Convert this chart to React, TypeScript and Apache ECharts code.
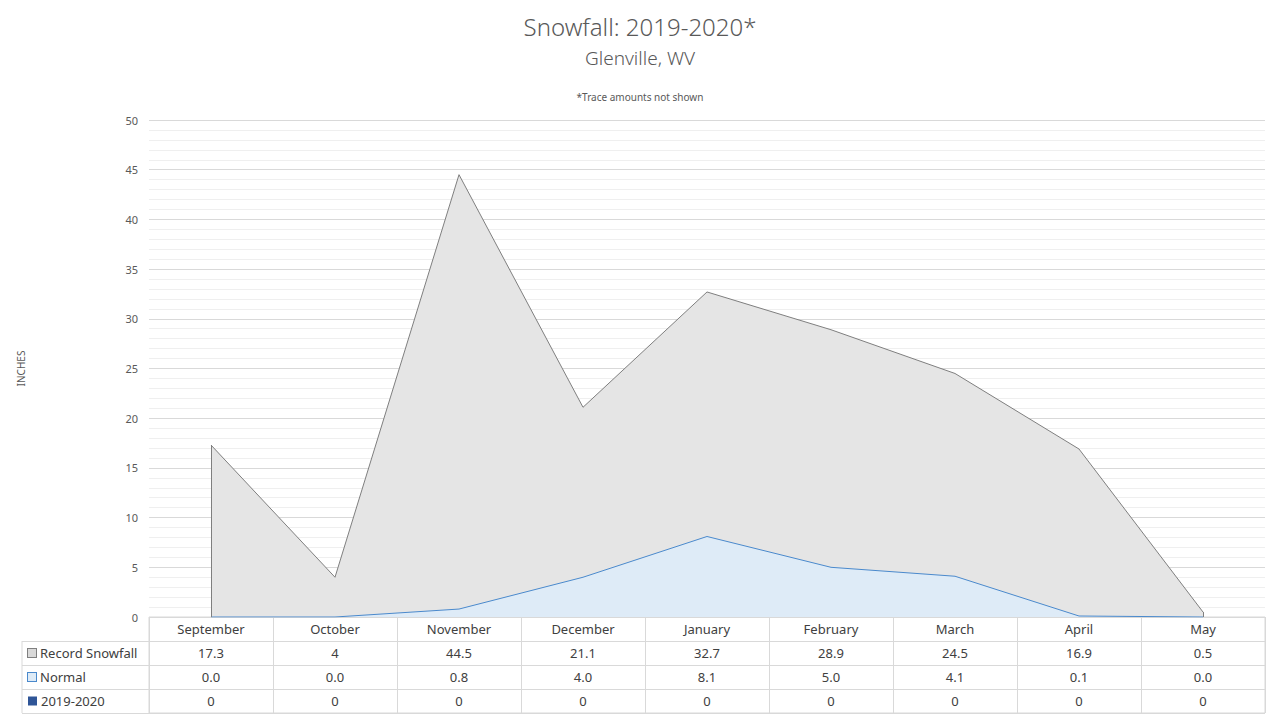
import React, { useEffect, useRef } from "react";
import * as echarts from "echarts";

const months = ["September", "October", "November", "December", "January", "February", "March", "April", "May"];
const recordSnowfall = [17.3, 4, 44.5, 21.1, 32.7, 28.9, 24.5, 16.9, 0.5];
const normalSnowfall = [0.0, 0.0, 0.8, 4.0, 8.1, 5.0, 4.1, 0.1, 0.0];
const season2019 = [0, 0, 0, 0, 0, 0, 0, 0, 0];
const rowNames = ["", "Record Snowfall", "Normal", "2019-2020"];
const yTicks = { min: 0, max: 50, interval: 5 };

const FONT = "'Noto Sans', 'Open Sans', sans-serif";
const TEXT = "#404040";
const AXIS_TEXT = "#595959";
const GRID = "#d9d9d9";

export default function App() {
  const ref = useRef<HTMLDivElement>(null);
  useEffect(() => {
    if (!ref.current) return;
    const chart = echarts.init(ref.current, undefined, { renderer: "svg" });
    const plotLeft = 149;
    const plotRight = 15;
    const plotTop = 120;
    const plotBottom = 103;
    const tableTop = 617;
    const tableHeight = 96;
    const tableLeft = 22;
    const rowH = tableHeight / rowNames.length;

    const option: any = {
      animation: false,
      textStyle: { fontFamily: FONT },
      title: [
        { text: "Snowfall: 2019-2020*", left: "center", top: 9, textStyle: { fontSize: 24, fontWeight: 300, color: AXIS_TEXT, fontFamily: FONT } },
        { text: "Glenville, WV", left: "center", top: 43, textStyle: { fontSize: 19, fontWeight: 300, color: AXIS_TEXT, fontFamily: FONT } },
        { text: "*Trace amounts not shown", left: "center", top: 87, textStyle: { fontSize: 10, fontWeight: "normal", color: AXIS_TEXT, fontFamily: FONT } },
      ],
      grid: [
        { left: plotLeft, right: plotRight, top: plotTop, bottom: plotBottom, containLabel: false },
        { left: plotLeft, right: plotRight, top: tableTop, height: tableHeight, show: true, borderColor: GRID, borderWidth: 1, backgroundColor: "transparent" },
      ],
      xAxis: [
        {
          type: "category",
          gridIndex: 0,
          data: months,
          boundaryGap: true,
          axisLine: { show: false },
          axisTick: { show: false },
          axisLabel: { show: false },
          splitLine: { show: false },
        },
        {
          type: "category",
          gridIndex: 1,
          data: months,
          position: "top",
          boundaryGap: true,
          axisLine: { show: false },
          axisTick: { show: false },
          splitLine: { show: true, interval: 0, lineStyle: { color: GRID, width: 1 } },
          axisLabel: {
            inside: true,
            margin: 0,
            interval: 0,
            lineHeight: rowH,
            fontSize: 13,
            fontWeight: "normal",
            color: TEXT,
            fontFamily: FONT,
            formatter: (v: string, i: number) =>
              [v, String(recordSnowfall[i]), normalSnowfall[i].toFixed(1), String(season2019[i])].join("\n"),
          },
        },
      ],
      yAxis: [
        {
          type: "value",
          gridIndex: 0,
          min: yTicks.min,
          max: yTicks.max,
          interval: yTicks.interval,
          name: "INCHES",
          nameLocation: "middle",
          nameRotate: 90,
          nameGap: 123,
          nameTextStyle: { fontSize: 10, color: AXIS_TEXT, fontFamily: FONT },
          axisLine: { show: false },
          axisTick: { show: false },
          axisLabel: { fontSize: 11, color: AXIS_TEXT, margin: 11, fontFamily: FONT },
          splitLine: { show: true, lineStyle: { color: GRID, width: 1 } },
          minorTick: { show: false, splitNumber: 5 },
          minorSplitLine: { show: true, lineStyle: { color: "#efefef", width: 1 } },
        },
        {
          type: "category",
          gridIndex: 1,
          data: rowNames,
          inverse: true,
          boundaryGap: true,
          axisLine: { show: false },
          axisTick: {
            show: true,
            inside: false,
            length: plotLeft - tableLeft,
            interval: (index: number) => index !== 0,
            lineStyle: { color: GRID, width: 1 },
          },
          splitLine: { show: true, interval: 0, lineStyle: { color: GRID, width: 1 } },
          axisLabel: {
            interval: 0,
            align: "left",
            margin: plotLeft - tableLeft - 6,
            fontSize: 13,
            fontWeight: "normal",
            color: TEXT,
            fontFamily: FONT,
            formatter: (v: string, i: number) => (i === 0 ? "" : `{m${i}|}{t|${v}}`),
            rich: {
              m1: { width: 8, height: 8, backgroundColor: "#d9d9d9", borderColor: "#7f7f7f", borderWidth: 1 },
              m2: { width: 8, height: 8, backgroundColor: "#deebf7", borderColor: "#4a89cc", borderWidth: 1 },
              m3: { width: 9, height: 9, backgroundColor: "#2f5597" },
              t: { fontSize: 13, fontWeight: "normal", color: TEXT, fontFamily: FONT, padding: [0, 0, 0, 4] },
            },
          },
        },
      ],
      graphic: [
        {
          type: "line",
          shape: { x1: tableLeft, y1: tableTop + rowH, x2: tableLeft, y2: tableTop + tableHeight },
          style: { stroke: GRID, lineWidth: 1 },
        },
      ],
      series: [
        {
          name: "Record Snowfall",
          type: "line",
          xAxisIndex: 0,
          yAxisIndex: 0,
          data: recordSnowfall,
          symbol: "none",
          lineStyle: { color: "#7f7f7f", width: 1 },
          areaStyle: { color: "#e5e5e5", opacity: 1 },
          z: 2,
          markLine: {
            silent: true,
            symbol: "none",
            label: { show: false },
            lineStyle: { color: "#7f7f7f", width: 1, type: "solid" },
            data: [
              [{ coord: [months[0], 0] }, { coord: [months[0], recordSnowfall[0]] }],
              [{ coord: [months[months.length - 1], 0] }, { coord: [months[months.length - 1], recordSnowfall[recordSnowfall.length - 1]] }],
            ],
          },
        },
        {
          name: "Normal",
          type: "line",
          xAxisIndex: 0,
          yAxisIndex: 0,
          data: normalSnowfall,
          symbol: "none",
          lineStyle: { color: "#4a89cc", width: 1 },
          areaStyle: { color: "#deebf7", opacity: 1 },
          z: 3,
        },
        {
          name: "2019-2020",
          type: "line",
          xAxisIndex: 0,
          yAxisIndex: 0,
          data: season2019,
          symbol: "none",
          lineStyle: { color: "#2f5597", width: 0, opacity: 0 },
          areaStyle: { color: "#2f5597", opacity: 1 },
          z: 4,
        },
        {
          type: "scatter",
          xAxisIndex: 1,
          yAxisIndex: 1,
          data: [],
        },
      ],
    };
    chart.setOption(option);
    return () => chart.dispose();
  }, []);
  return <div ref={ref} style={{ position: "fixed", left: 0, top: 0, width: 1280, height: 720, background: "#fff" }} />;
}
